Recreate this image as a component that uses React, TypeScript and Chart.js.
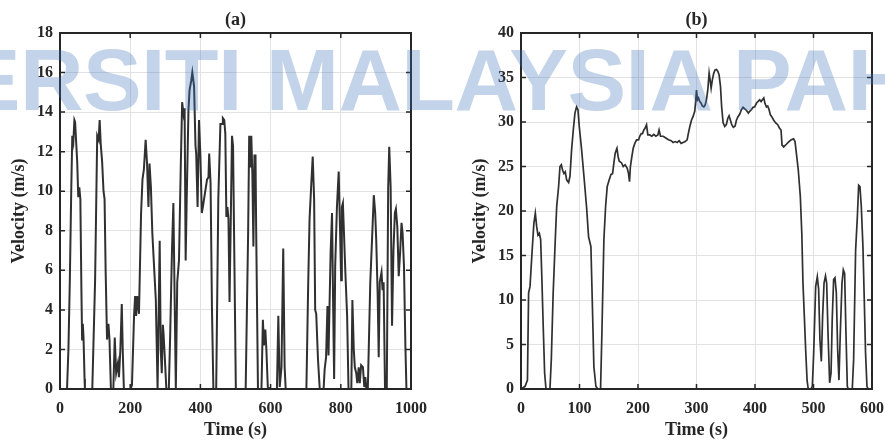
import React, { useEffect, useRef } from "react";
import { Chart, registerables } from "chart.js";

Chart.register(...registerables);

// ---------- Panel (a) ----------
const timeA = [
  0, 20, 24, 28, 32, 35, 38, 41, 43, 46, 49, 52, 55, 58, 61, 63, 65, 67, 70, 71,
  92, 100, 106, 110, 113, 116, 120, 124, 127, 130, 134, 138, 141, 145,
  152, 156, 160, 165, 168, 172, 176, 179, 182,
  201, 205, 211, 214, 217, 220, 225, 231, 235, 239, 244, 248, 252, 255, 259, 263, 268, 273, 278,
  284, 287, 290, 293, 295, 298, 303,
  310, 314, 319, 323, 326, 330,
  334, 339, 344, 348, 352, 355, 358, 361, 366, 369, 374, 377, 382, 386, 388, 392, 396, 400, 404, 407, 413, 419, 423, 425, 429, 433, 437,
  445, 451, 457, 462, 464, 468, 471, 474, 477, 480, 483, 486, 490, 493, 497, 501,
  529, 536, 539, 542, 545, 548, 551, 554, 557, 559, 564,
  574, 578, 581, 585, 588, 592, 599,
  618, 622, 626, 631, 636, 640, 643,
  702, 707, 711, 716, 720, 724, 727, 730, 735, 740,
  751, 754, 758, 762, 765, 768, 771, 775, 778, 781, 784, 789, 794, 798, 801, 803, 806, 809, 813, 818, 822,
  830, 833, 837, 840, 844, 847, 851, 854, 858, 863, 867, 870, 873,
  877, 884, 890, 894, 898, 901, 905, 908, 911, 914, 916, 919, 922, 926,
  931, 935, 938, 942, 946, 950, 954, 957, 961, 965, 969, 973, 976, 980, 984, 987, 1000,
];
const velocityA = [
  0, 0, 2, 5.5, 10, 12.8, 12.5, 13.6, 13.5, 12.5, 11.5, 9.7, 10.2, 9.6, 5, 2.5, 3.3, 2.6, 0.5, 0,
  0, 5.5, 12.8, 12.6, 13.6, 12.4, 11.5, 10, 9.6, 6, 2.5, 3.3, 2.5, 0,
  0, 2.6, 0.8, 1.3, 0.6, 2, 4.3, 1.8, 0,
  0, 0.2, 3.7, 4.7, 3.7, 4.7, 3.8, 8.9, 10.6, 11.1, 12.6, 11.4, 9.2, 11.4, 10.2, 7.9, 6.2, 4.5, 0,
  7.5, 2, 0.8, 3.25, 2.8, 1.8, 0,
  0, 2.8, 7, 9.4, 5.4, 0,
  5.4, 6.5, 11.2, 14.5, 13.9, 14.2, 6.5, 9.6, 14.1, 15.1, 15.6, 16, 15.3, 12.3, 11.9, 9.2, 13.6, 11.8, 8.9, 9.2, 9.9, 10.6, 10.7, 11.9, 10.4, 4, 0,
  0, 9.6, 13.4, 13.4, 13.7, 13.6, 12.9, 8.7, 9.2, 8.6, 4.4, 7.9, 12.8, 12.3, 6.2, 0,
  0, 7.9, 12.8, 11.2, 12.8, 10.9, 7.2, 11.8, 11.8, 7.9, 0,
  0, 3.5, 2.2, 3, 2, 0.1, 0,
  0, 3.7, 0.1, 1.1, 7.1, 1.1, 0,
  0, 5.2, 8.6, 10.4, 11.75, 9.6, 4, 3.8, 1.5, 0,
  0, 1, 1.6, 4.2, 1.7, 4.3, 6.9, 8.9, 4.5, 0.5, 6.2, 9.2, 11, 7.9, 5.5, 9.2, 9.4, 7.9, 5.9, 3.7, 0,
  0, 4.5, 2, 1.1, 0.8, 0.3, 1.1, 0.3, 1.2, 1.1, 0.1, 0.6, 0,
  0, 5.4, 8, 9.8, 8.9, 7.5, 4.8, 1.6, 5.4, 5.7, 5.9, 5, 5.4, 0,
  0, 10.2, 12.25, 10.2, 3.2, 7, 8.9, 9.1, 8.2, 5.7, 6.9, 8.4, 7.9, 6.2, 2.2, 0, 0,
];
const xTicksA = [0, 200, 400, 600, 800, 1000];
const yTicksA = [0, 2, 4, 6, 8, 10, 12, 14, 16, 18];

// ---------- Panel (b) ----------
const timeB = [
  0, 7, 11, 13, 15.4, 18.8, 22, 24.5, 26.7, 29,
  31.3, 33.6, 35.9, 38, 40.4, 42.7, 49.5, 51.8, 55, 58.6,
  61, 64.3, 66.6, 69, 71, 73.4, 75.7, 78, 81.4, 83.7,
  86.5, 89.4, 92.2, 95, 97.3, 99.6, 103.6, 107.6, 112, 115.5,
  119.5, 121.8, 124.6, 128, 131, 136, 138.3, 141.7, 144.6, 147.4,
  150.8, 153.7, 156.5, 158.8, 161, 164, 166, 168, 172, 174.7,
  178, 181.6, 183.8, 185.5, 187, 189.5, 191.8, 194.6, 197.5, 201,
  203, 205.5, 207.7, 210, 212, 214.6, 216.8, 220, 223.7, 227,
  230.5, 234, 236, 238.5, 243, 247.6, 252, 256.7, 260, 263.5,
  267, 270.3, 273.8, 277, 280.6, 284, 286, 288.6, 291.4, 294,
  297, 298.8, 300, 301.6, 303.4, 305.6, 308, 310, 312.5, 314.7,
  317, 319.3, 321.6, 323.3, 325, 327, 329.5, 331.8, 334, 336.4,
  338.6, 341, 343, 345.5, 348.3, 351, 353.4, 355.7, 358, 360.3,
  363, 366, 368.2, 371, 374, 376.8, 379.6, 382, 384, 386.5,
  388.7, 391, 394, 396.7, 399.5, 402.4, 405, 408, 410.4, 412.6,
  415, 417, 419.5, 421.7, 424, 426.3, 428.6, 432, 435.4, 438.8,
  442, 444.5, 446.2, 449, 453.6, 458, 462, 466, 468.4, 470.7,
  474, 477.5, 480, 482, 484.3, 486.6, 489, 491, 495.7, 498,
  500.3, 503.7, 506.5, 508.8, 511, 513.4, 515.6, 518, 520.5, 522.5,
  524.8, 527.6, 530, 532, 534.4, 536.7, 539, 541.3, 543.5, 545.8,
  548.7, 551, 553.2, 555.5, 557.8, 559.5, 566.3, 568.6, 572, 575,
  577.2, 579.4, 581.7, 584.5, 586.8, 589, 591.4, 593.6, 600,
];
const velocityB = [
  0, 0.3, 1, 10.8, 11.5, 15.3, 18.6, 19.75, 18.3, 17.3,
  17.5, 16.8, 11.9, 7, 1.8, 0, 0, 3.3, 10.8, 16.8,
  20.5, 22.75, 25, 25.2, 24.6, 24.2, 24.4, 23.5, 23.2, 23.9,
  26.9, 29.1, 31, 31.7, 31.4, 29.5, 26.9, 23.9, 20.5, 17.1,
  16, 10, 2.5, 0.3, 0, 0, 6.3, 16.8, 20.5, 22.75,
  23.5, 24.1, 24.2, 25.4, 26.5, 27.05, 26.1, 25.6, 25.4, 25,
  25.2, 24.8, 24.2, 23.3, 25, 26.1, 27.05, 27.6, 28, 28,
  28.4, 28.7, 28.7, 29.1, 29.3, 29.7, 28.55, 28.55, 28.4, 28.6,
  28.4, 28.55, 29.1, 28.4, 28.4, 28.2, 28, 27.9, 27.7, 27.8,
  27.7, 27.9, 27.6, 27.7, 27.8, 28, 28.7, 29.5, 30.2, 30.6,
  31.2, 32.5, 33.6, 32.5, 32.7, 32.3, 32.1, 31.8, 31.7, 31.9,
  32.5, 33.6, 35.5, 34.7, 33.8, 34.7, 35.5, 35.85, 35.9, 35.7,
  35.3, 34, 31.7, 29.9, 29.5, 29.7, 30.4, 30.7, 30.2, 29.7,
  29.4, 29.55, 30.2, 30.6, 30.9, 31.4, 31.65, 31.5, 31.4, 31.2,
  31, 31.2, 31.4, 31.65, 31.7, 32.1, 32.3, 32.5, 32.3, 32.5,
  32.7, 32.1, 31.7, 31.8, 31.4, 30.8, 30.6, 30.2, 29.9, 29.7,
  29.3, 29.1, 27.4, 27.2, 27.5, 27.8, 28, 28.1, 27.8, 26.5,
  24.6, 21.6, 17.5, 11.9, 8.2, 4.4, 1, 0, 0, 0.3,
  4, 11.5, 12.6, 11.2, 5.5, 3.1, 8.2, 11.9, 12.7, 11.9,
  6.3, 0.7, 1.8, 7.8, 12.3, 12.5, 10.8, 4.4, 1, 6.3,
  11.9, 13.4, 13, 6.3, 0.3, 0, 0, 3.3, 15.6, 19.4,
  22.9, 22.75, 20.5, 16, 10, 4, 0.3, 0, 0,
];
const xTicksB = [0, 100, 200, 300, 400, 500, 600];
const yTicksB = [0, 5, 10, 15, 20, 25, 30, 35, 40];

const SERIF = '"Liberation Serif", "Times New Roman", serif';
const INK = "#262626";

const framePlugin = {
  id: "frame",
  afterDraw(chart: any, _args: any, opts: any) {
    const { ctx, chartArea: a } = chart;
    const x = chart.scales.x;
    const y = chart.scales.y;
    ctx.save();
    ctx.strokeStyle = INK;
    ctx.lineWidth = 1.5;
    const L = 5;
    ctx.beginPath();
    for (const t of opts.xTicks) {
      const px = x.getPixelForValue(t);
      ctx.moveTo(px, a.bottom);
      ctx.lineTo(px, a.bottom - L);
      ctx.moveTo(px, a.top);
      ctx.lineTo(px, a.top + L);
    }
    for (const t of opts.yTicks) {
      const py = y.getPixelForValue(t);
      ctx.moveTo(a.left, py);
      ctx.lineTo(a.left + L, py);
      ctx.moveTo(a.right, py);
      ctx.lineTo(a.right - L, py);
    }
    ctx.stroke();
    ctx.lineWidth = 2;
    ctx.strokeRect(a.left, a.top, a.right - a.left, a.bottom - a.top);
    ctx.fillStyle = INK;
    ctx.font = `bold 18px ${SERIF}`;
    ctx.textAlign = "center";
    ctx.textBaseline = "middle";
    ctx.fillText(opts.title, (a.left + a.right) / 2, 20);
    ctx.restore();
  },
};

function makeConfig(p: {
  title: string;
  times: number[];
  vels: number[];
  xTicks: number[];
  yTicks: number[];
  yAxisWidth: number;
  rightPad: number;
  yTitlePad: number;
  lineWidth: number;
}) {
  const n = Math.min(p.times.length, p.vels.length);
  const data = [];
  for (let i = 0; i < n; i++) data.push({ x: p.times[i], y: p.vels[i] });
  const tickFont = { family: SERIF, size: 16, weight: "bold" as const };
  const titleFont = { family: SERIF, size: 18, weight: "bold" as const };
  return {
    type: "line" as const,
    data: {
      datasets: [
        {
          data,
          borderColor: "#303030",
          borderWidth: p.lineWidth,
          pointRadius: 0,
          tension: 0,
          fill: false,
        },
      ],
    },
    plugins: [framePlugin],
    options: {
      animation: false as const,
      responsive: false,
      maintainAspectRatio: false,
      layout: { padding: { top: 33, right: p.rightPad, left: 0, bottom: 0 } },
      plugins: {
        legend: { display: false },
        tooltip: { enabled: false },
        title: { display: false },
        frame: { xTicks: p.xTicks, yTicks: p.yTicks, title: p.title },
      },
      scales: {
        x: {
          type: "linear" as const,
          min: p.xTicks[0],
          max: p.xTicks[p.xTicks.length - 1],
          afterBuildTicks: (s: any) => {
            s.ticks = p.xTicks.map((v) => ({ value: v }));
          },
          afterFit: (s: any) => {
            s.height = 52;
          },
          grid: {
            color: "#e2e2e2",
            lineWidth: 1,
            drawTicks: true,
            tickLength: 10,
            tickColor: "rgba(0,0,0,0)",
          },
          border: { display: false },
          ticks: {
            autoSkip: false,
            maxRotation: 0,
            padding: 0,
            color: INK,
            font: tickFont,
            callback: (v: any) => String(v),
          },
          title: {
            display: true,
            text: "Time (s)",
            color: INK,
            font: titleFont,
            padding: { top: 0, bottom: 0 },
          },
        },
        y: {
          type: "linear" as const,
          min: p.yTicks[0],
          max: p.yTicks[p.yTicks.length - 1],
          afterBuildTicks: (s: any) => {
            s.ticks = p.yTicks.map((v) => ({ value: v }));
          },
          afterFit: (s: any) => {
            s.width = p.yAxisWidth;
          },
          grid: { color: "#e2e2e2", lineWidth: 1, drawTicks: false },
          border: { display: false },
          ticks: {
            autoSkip: false,
            padding: 7,
            color: INK,
            font: tickFont,
            callback: (v: any) => String(v),
          },
          title: {
            display: true,
            text: "Velocity (m/s)",
            color: INK,
            font: titleFont,
            padding: { top: p.yTitlePad, bottom: 0 },
          },
        },
      },
    },
  };
}

export default function App() {
  const refA = useRef<HTMLCanvasElement>(null);
  const refB = useRef<HTMLCanvasElement>(null);

  useEffect(() => {
    const a = new Chart(
      refA.current as HTMLCanvasElement,
      makeConfig({
        title: "(a)",
        times: timeA,
        vels: velocityA,
        xTicks: xTicksA,
        yTicks: yTicksA,
        yAxisWidth: 60,
        rightPad: 29,
        yTitlePad: 8.5,
        lineWidth: 2,
      }) as any
    );
    const b = new Chart(
      refB.current as HTMLCanvasElement,
      makeConfig({
        title: "(b)",
        times: timeB,
        vels: velocityB,
        xTicks: xTicksB,
        yTicks: yTicksB,
        yAxisWidth: 81,
        rightPad: 13,
        yTitlePad: 30,
        lineWidth: 1.7,
      }) as any
    );
    return () => {
      a.destroy();
      b.destroy();
    };
  }, []);

  return (
    <div
      style={{
        position: "absolute",
        left: 0,
        top: 0,
        width: 885,
        height: 441,
        overflow: "hidden",
        background: "#ffffff",
      }}
    >
      <canvas
        ref={refA}
        width={440}
        height={441}
        style={{ position: "absolute", left: 0, top: 0, width: 440, height: 441 }}
      />
      <canvas
        ref={refB}
        width={445}
        height={441}
        style={{ position: "absolute", left: 440, top: 0, width: 445, height: 441 }}
      />
      <div
        style={{
          position: "absolute",
          left: -246,
          top: 36,
          font: 'bold 88px "Liberation Sans", Arial, sans-serif',
          lineHeight: "88px",
          letterSpacing: "-0.6px",
          whiteSpace: "nowrap",
          color: "rgba(60,112,184,0.31)",
          pointerEvents: "none",
          zIndex: 2,
        }}
      >
        UNIVERSITI MALAYSIA PAHANG
      </div>
    </div>
  );
}
